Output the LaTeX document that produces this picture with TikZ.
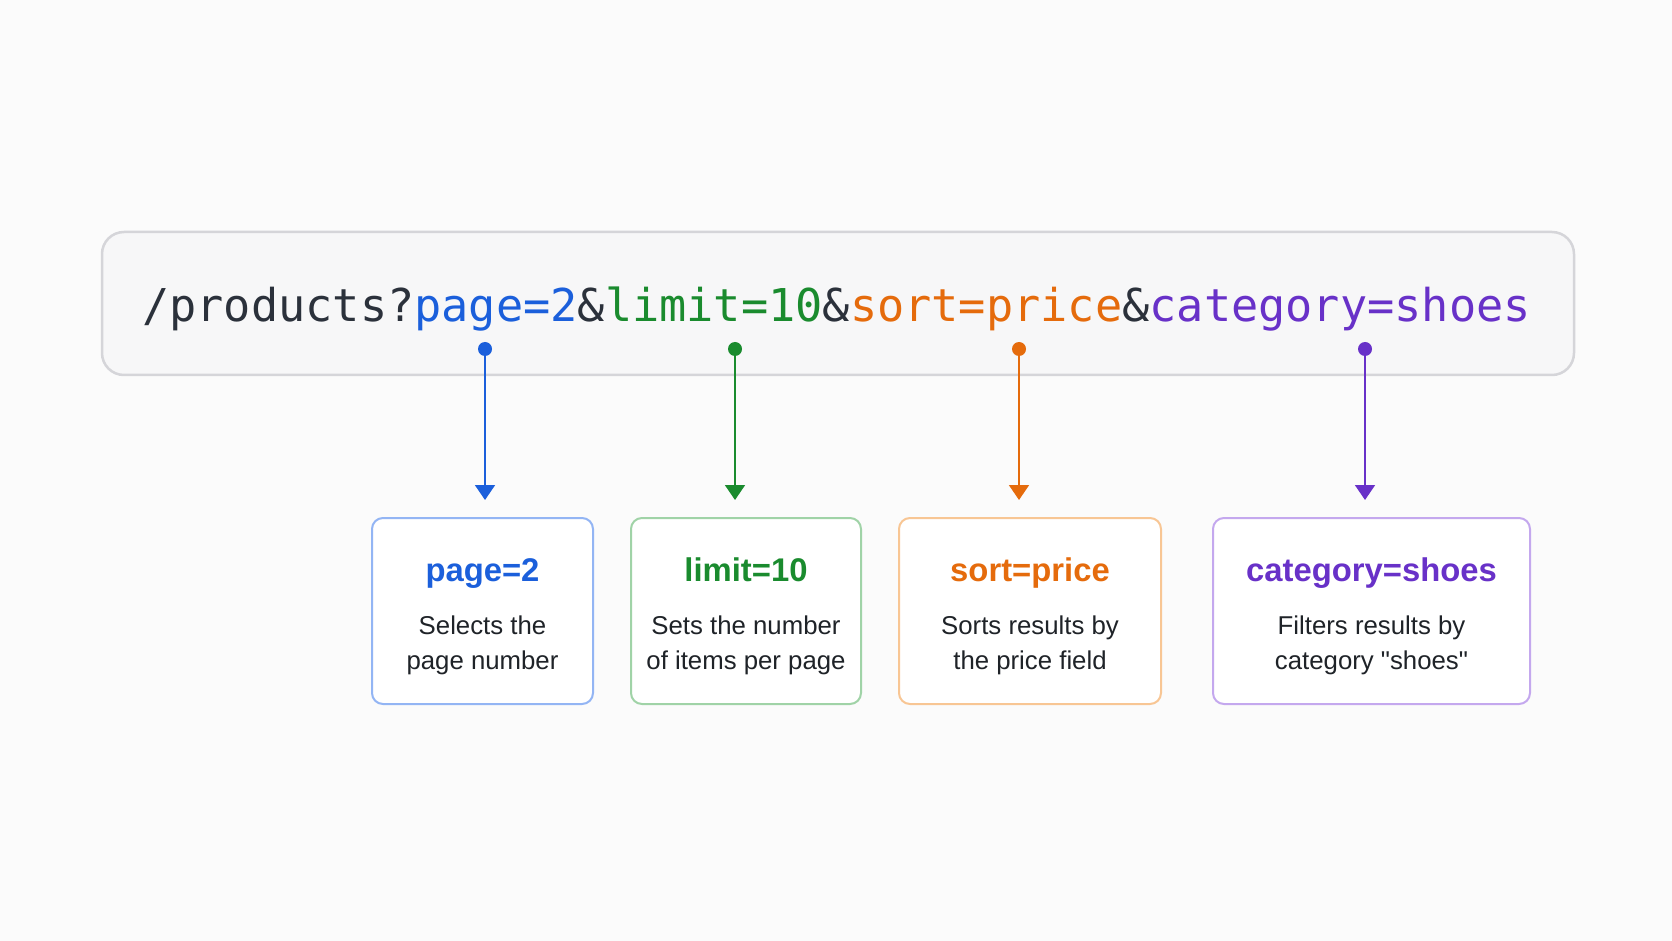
\documentclass[tikz,border=0pt]{standalone}
\usepackage{fontspec}
\setmainfont{Liberation Sans}
\newfontfamily\codefont{DejaVu Sans Mono}
\usetikzlibrary{arrows.meta}

\definecolor{bgcol}{HTML}{FBFBFB}
\definecolor{barfill}{HTML}{F7F7F8}
\definecolor{baredge}{HTML}{D5D5D9}
\definecolor{inkdark}{HTML}{2B313B}
\definecolor{textdark}{HTML}{1F2328}
\definecolor{pageblue}{HTML}{1B5FDB}
\definecolor{pageedge}{HTML}{93B5F4}
\definecolor{limitgreen}{HTML}{1A8B2E}
\definecolor{limitedge}{HTML}{A0D3A7}
\definecolor{sortorange}{HTML}{E56B0C}
\definecolor{sortedge}{HTML}{F8C694}
\definecolor{catpurple}{HTML}{6831C8}
\definecolor{catedge}{HTML}{C4A8EE}

\newdimen\px \px=0.3mm

\tikzset{
  urlbar/.style = {draw = baredge, fill = barfill, line width = 2.5\px, rounded corners = 22\px},
  qbox/.style = {line width = 2\px, fill = white, rounded corners = 11\px,
                 minimum height = 186\px},
  qtitle/.style = {anchor = base, font = \bfseries\fontsize{28}{30}\selectfont},
  qdesc/.style = {align = center, text = textdark, font = \fontsize{22}{29.9}\selectfont},
  dot/.style = {circle, inner sep = 0, minimum size = 14\px},
  link/.style = {line width = 1.7pt, -{Triangle[width = 17pt, length = 12.8pt]}, shorten > = 14.5pt}
}

\begin{document}
\begin{tikzpicture} [x = 0.3mm, y = -0.3mm]
\fill[bgcol] (0, 0) rectangle (1672, 941);
\useasboundingbox (0, 0) rectangle (1672, 941);

% query string
\node[urlbar, minimum width = 1472\px, minimum height = 143\px] (bar) at (838, 303.5) {};
\node[anchor = base west, inner sep = 0, font = \codefont\fontsize{38.6}{40}\selectfont] (url) at (142, 322)
  {\textcolor{inkdark}{/products?}\textcolor{pageblue}{page=2}\textcolor{inkdark}{\&}\textcolor{limitgreen}{limit=10}\textcolor{inkdark}{\&}\textcolor{sortorange}{sort=price}\textcolor{inkdark}{\&}\textcolor{catpurple}{category=shoes}};

% markers
\node[dot, fill = pageblue] (kpage) at (485, 349) {};
\node[dot, fill = limitgreen] (klimit) at (735, 349) {};
\node[dot, fill = sortorange] (ksort) at (1019, 349) {};
\node[dot, fill = catpurple] (kcat) at (1365, 349) {};

% boxes
\node[qbox, draw = pageedge, minimum width = 221\px] (page) at (482.5, 611) {};
\node[qbox, draw = limitedge, minimum width = 230\px] (limit) at (746, 611) {};
\node[qbox, draw = sortedge, minimum width = 262\px] (sort) at (1030, 611) {};
\node[qbox, draw = catedge, minimum width = 317\px] (cat) at (1371.5, 611) {};

\node[qtitle, text = pageblue] (tpage) at (482.5, 581) {page=2};
\node[qtitle, text = limitgreen] (tlimit) at (746, 581) {limit=10};
\node[qtitle, text = sortorange] (tsort) at (1030, 581) {sort=price};
\node[qtitle, text = catpurple] (tcat) at (1371.5, 581) {category=shoes};

\node[qdesc] (dpage) at (482.5, 645) {Selects the\\page number};
\node[qdesc] (dlimit) at (746, 645) {Sets the number\\of items per page};
\node[qdesc] (dsort) at (1030, 645) {Sorts results by\\the price field};
\node[qdesc] (dcat) at (1371.5, 645) {Filters results by\\category \textquotedbl shoes\textquotedbl};

% arrows
\draw[link, pageblue] (kpage) -- (kpage |- page.north);
\draw[link, limitgreen] (klimit) -- (klimit |- limit.north);
\draw[link, sortorange] (ksort) -- (ksort |- sort.north);
\draw[link, catpurple] (kcat) -- (kcat |- cat.north);
\end{tikzpicture}
\end{document}
